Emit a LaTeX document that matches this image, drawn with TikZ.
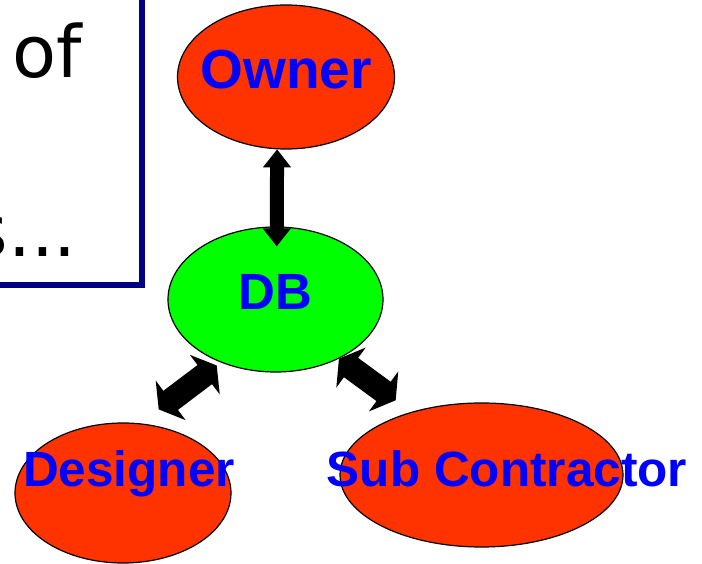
\documentclass[tikz,border=0pt]{standalone}
\usepackage{fontspec}
\setmainfont{Liberation Sans}
\newfontfamily\framefont{DejaVu Sans}
\usetikzlibrary{shapes.geometric, arrows.meta}
\definecolor{ovalred}{HTML}{FF3300}
\definecolor{dbgreen}{HTML}{00FF00}
\definecolor{tagblue}{HTML}{0000FF}
\definecolor{framenavy}{HTML}{000080}

\begin{document}
\begin{tikzpicture}[x=1pt, y=1pt,
    party/.style={ellipse, draw, line width=1.2pt, fill=ovalred, inner sep=0pt},
    tag/.style={anchor=base, inner sep=0pt, text=tagblue, font=\bfseries\fontsize{49.5}{50}\selectfont},
    thinlink/.style={line width=14pt, {Triangle[width=27pt, length=18pt]}-{Triangle[width=27pt, length=18pt]}},
    fatlink/.style={line width=24pt, {Triangle[width=49pt, length=15pt]}-{Triangle[width=49pt, length=15pt]}}]
    \useasboundingbox (0,0) rectangle (702,564);
    \clip (0,0) rectangle (702,564);
    % cut-off text box
    \draw [framenavy, line width=6pt] (-20,279) rectangle (142,600);
    \node [anchor=base west, inner sep=0pt, font=\framefont\fontsize{72}{74}\selectfont] (of) at (12,486) {of};
    \node [anchor=base east, inner sep=0pt, font=\framefont\fontsize{72}{74}\selectfont] (dots) at (77,307) {s...};
    % parties
    \node [party, minimum width=217pt, minimum height=144pt] (owner) at (286,487) {};
    \node [party, fill=dbgreen, minimum width=215pt, minimum height=145pt] (db) at (275.5,264.5) {};
    \node [party, minimum width=216pt, minimum height=140pt] (designer) at (123,71) {};
    \node [party, minimum width=283pt, minimum height=144pt] (sub) at (481.5,89) {};
    \node [tag, font=\bfseries\fontsize{55}{56}\selectfont] (ownertag) at (286,475) {Owner};
    \node [tag, font=\bfseries\fontsize{51}{52}\selectfont] (dbtag) at (275.5,254) {DB};
    \node [tag] (designertag) at (129,77) {Designer};
    \node [tag] (subtag) at (507,77) {Sub Contractor};
    % links
    \draw [thinlink, shorten >=-20pt] (owner.263) -- (db.89);
    \draw [fatlink, shorten <=23pt, shorten >=5pt] (designer.76) -- (db.229);
    \draw [fatlink, shorten >=19.5pt] (db.317) -- (sub.138);
\end{tikzpicture}
\end{document}
